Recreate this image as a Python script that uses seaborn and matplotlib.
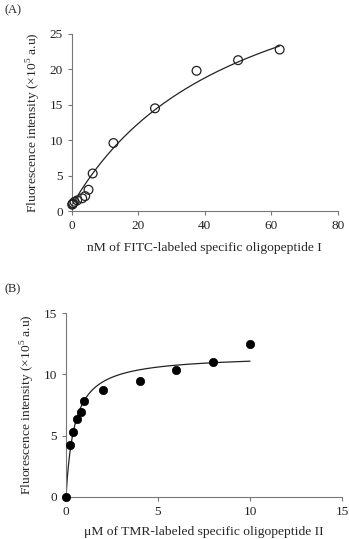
import numpy as np
import pandas as pd
import matplotlib
matplotlib.use("Agg")
import matplotlib.pyplot as plt
import seaborn as sns

# Panel A: FITC-labeled oligopeptide I (nM) vs fluorescence (x10^5 a.u)
conc_a = [0.1, 0.2, 0.4, 0.8, 1.6, 3.1, 4.0, 5.0, 6.25, 12.5, 25.0, 37.5, 50.0, 62.5]
fluor_a = [0.9, 1.0, 1.1, 1.3, 1.5, 1.8, 2.1, 3.0, 5.3, 9.6, 14.5, 19.8, 21.3, 22.8]
# saturation fit drawn through panel A (offset + Bmax*x/(Kd+x))
fit_a = dict(c=0.8, bmax=40.5, kd=50.0, xmax=62.5)

# Panel B: TMR-labeled oligopeptide II (uM) vs fluorescence (x10^5 a.u)
conc_b = [0.0, 0.2, 0.4, 0.6, 0.8, 1.0, 2.0, 4.0, 6.0, 8.0, 10.0]
fluor_b = [0.0, 4.2, 5.3, 6.35, 6.95, 7.85, 8.75, 9.5, 10.35, 11.05, 12.5]
fit_b = dict(c=0.0, bmax=11.6, kd=0.47, xmax=10.0)

sns.set_style("ticks")
plt.rcParams['font.family'] = ['Liberation Serif', 'DejaVu Serif']
plt.rcParams['mathtext.fontset'] = 'custom'
plt.rcParams['mathtext.rm'] = 'Liberation Serif'
plt.rcParams['font.size'] = 9.5

grey = '#777777'
ylab = r"Fluorescence intensity ($\times$10$^5$ a.u)"


def fit_curve(p):
    x = np.linspace(0, p['xmax'], 300)
    y = p['c'] + p['bmax'] * x / (p['kd'] + x)
    return pd.DataFrame({'x': x, 'y': y})


def style_axes(ax, xlim, ylim, xticks, yticks):
    ax.set_xlim(*xlim)
    ax.set_ylim(*ylim)
    ax.set_xticks(xticks)
    ax.set_yticks(yticks)
    sns.despine(ax=ax)
    for s in ['left', 'bottom']:
        ax.spines[s].set_color(grey)
        ax.spines[s].set_linewidth(0.8)
    ax.tick_params(colors=grey, labelcolor='#222222', length=3, width=0.8, labelsize=9.5)


fig = plt.figure(figsize=(3.49, 5.39), dpi=100)
ax1 = fig.add_axes([0.206, 0.6085, 0.762, 0.3285])
ax2 = fig.add_axes([0.189, 0.078, 0.791, 0.341])

# (A)
df_a = pd.DataFrame({'x': conc_a, 'y': fluor_a})
sns.lineplot(data=fit_curve(fit_a), x='x', y='y', ax=ax1, color='#222222', lw=0.9)
sns.scatterplot(data=df_a, x='x', y='y', ax=ax1, marker='o', s=40,
                facecolor='none', edgecolor='#222222', linewidth=0.9, zorder=3, clip_on=False)
style_axes(ax1, (0, 80), (0, 25), [0, 20, 40, 60, 80], [0, 5, 10, 15, 20, 25])
ax1.set_xlabel("nM of FITC-labeled specific oligopeptide I", fontsize=9.7, labelpad=7)
ax1.set_ylabel(ylab, fontsize=9.7, labelpad=5)

# (B)
df_b = pd.DataFrame({'x': conc_b, 'y': fluor_b})
sns.lineplot(data=fit_curve(fit_b), x='x', y='y', ax=ax2, color='#222222', lw=0.9)
sns.scatterplot(data=df_b, x='x', y='y', ax=ax2, marker='o', s=36,
                color='black', edgecolor='black', linewidth=0.5, zorder=3, clip_on=False)
style_axes(ax2, (0, 15), (0, 15), [0, 5, 10, 15], [0, 5, 10, 15])
ax2.set_xlabel("\u03bcM of TMR-labeled specific oligopeptide II", fontsize=9.7, labelpad=6)
ax2.set_ylabel(ylab, fontsize=9.7, labelpad=5)

fig.text(0.012, 0.992, "(A)", fontsize=9, va='top', ha='left')
fig.text(0.012, 0.474, "(B)", fontsize=9, va='top', ha='left')

fig.savefig("out.png", dpi=100)
